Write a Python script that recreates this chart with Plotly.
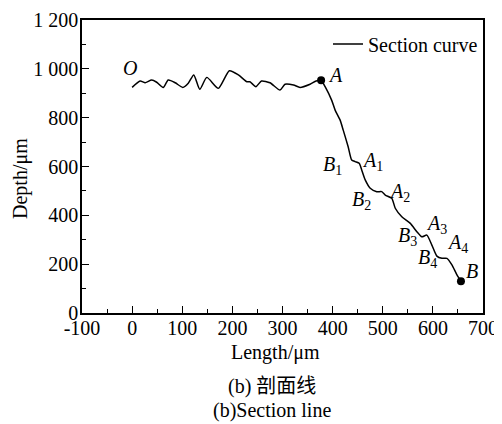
import plotly.graph_objects as go

# Section curve data (Length in um, Depth in um)
length = [0, 16, 26, 39, 49, 62, 72, 86, 101, 112, 123, 135, 149, 172, 194, 212, 229,
          235, 247, 258, 275, 295, 305, 322, 335, 355, 367, 377,
          385, 398, 405, 415, 421, 431, 438, 445, 453, 458, 465, 475, 488, 498,
          505, 518, 525, 538, 555, 568, 578, 588, 598, 608, 618, 628, 638, 648, 656]
depth = [924, 950, 943, 954, 945, 924, 954, 943, 924, 941, 975, 916, 965, 920, 992, 975, 947,
         947, 927, 950, 943, 913, 937, 934, 924, 937, 950, 953,
         927, 872, 831, 790, 750, 681, 627, 620, 613, 586, 545, 511, 497, 497,
         483, 470, 429, 394, 367, 333, 312, 319, 278, 233, 224, 224, 197, 156, 130]

# Key points
point_names = ["A", "B"]
point_x = [377, 656]
point_y = [953, 130]

# Labels on the curve
label_text = ["<i>O</i>", "<i>A</i>", "<i>B</i><sub>1</sub>", "<i>A</i><sub>1</sub>",
              "<i>B</i><sub>2</sub>", "<i>A</i><sub>2</sub>", "<i>B</i><sub>3</sub>",
              "<i>A</i><sub>3</sub>", "<i>B</i><sub>4</sub>", "<i>A</i><sub>4</sub>", "<i>B</i>"]
label_x = [-4, 405, 400, 480, 458, 533, 549, 608, 589, 650, 679]
label_y = [1004, 975, 605, 622, 460, 495, 315, 364, 225, 285, 170]

x_ticks = [-100, 0, 100, 200, 300, 400, 500, 600, 700]
x_ticktext = ["-100", "0", "100", "200", "300", "400", "500", "600", "700"]
y_ticks = [0, 200, 400, 600, 800, 1000, 1200]
y_ticktext = ["0", "200", "400", "600", "800", "1 000", "1 200"]

FONT = "Liberation Serif"
CJK = "Noto Sans CJK SC"
FS = 20

# page body has an 8px margin; compensate so the plot lands where the reference has it
OFF = 8
W, H = 502 - OFF, 424 - OFF
ML, MR, MT, MB = 82 - OFF, 19, 20 - OFF, 111

fig = go.Figure()
fig.add_trace(go.Scatter(x=length, y=depth, mode="lines", name="Section curve",
                         line=dict(color="black", width=1.5, shape="spline", smoothing=0.6)))
fig.add_trace(go.Scatter(x=point_x, y=point_y, mode="markers", showlegend=False,
                         text=point_names,
                         marker=dict(color="black", size=8)))

for t, x, y in zip(label_text, label_x, label_y):
    fig.add_annotation(x=x, y=y, text=t, showarrow=False,
                       xanchor="center", yanchor="middle",
                       font=dict(family=FONT, size=FS, color="black"))

axis_common = dict(showline=True, linecolor="black", linewidth=1.5, mirror=True,
                   ticks="inside", ticklen=7, tickwidth=1.3, tickcolor="black",
                   showgrid=False, zeroline=False, automargin=False,
                   tickfont=dict(family=FONT, size=FS, color="black"))

fig.update_xaxes(range=[-100, 700], tickvals=x_ticks, ticktext=x_ticktext,
                 ticklabelstandoff=-4,
                 minor=dict(ticks="inside", ticklen=4, dtick=50, tickcolor="black", tickwidth=1.3),
                 **axis_common)
fig.update_yaxes(range=[0, 1200], tickvals=y_ticks, ticktext=y_ticktext,
                 ticklabelstandoff=-2,
                 minor=dict(ticks="inside", ticklen=4, dtick=100, tickcolor="black", tickwidth=1.3),
                 **axis_common)

fig.update_layout(
    width=W, height=H,
    margin=dict(l=ML, r=MR, t=MT, b=MB, autoexpand=False),
    plot_bgcolor="white", paper_bgcolor="white",
    font=dict(family=FONT, size=FS, color="black"),
    showlegend=True,
    legend=dict(x=1.0, y=0.985, xanchor="right", yanchor="top",
                bgcolor="rgba(0,0,0,0)", font=dict(family=FONT, size=FS),
                itemwidth=30, tracegroupgap=0),
)

# helpers: page pixel -> paper coordinates
def py(ypix):
    return (H - MB - (ypix - OFF)) / (H - MT - MB)

def px(xpix):
    return ((xpix - OFF) - ML) / (W - ML - MR)

def page_text(xp, yp, text, angle=0):
    fig.add_annotation(x=px(xp), y=py(yp), xref="paper", yref="paper", text=text,
                       showarrow=False, xanchor="center", yanchor="middle",
                       textangle=angle,
                       font=dict(family=FONT, size=FS, color="black"))

page_text(275, 352, "Length/μm")
page_text(272, 384, "(b) <span style='font-family:" + CJK + "'>剖面线</span>")
page_text(272, 410, "(b)Section line")
page_text(20, 179, "Depth/μm", angle=-90)

fig.write_html("out.html")
